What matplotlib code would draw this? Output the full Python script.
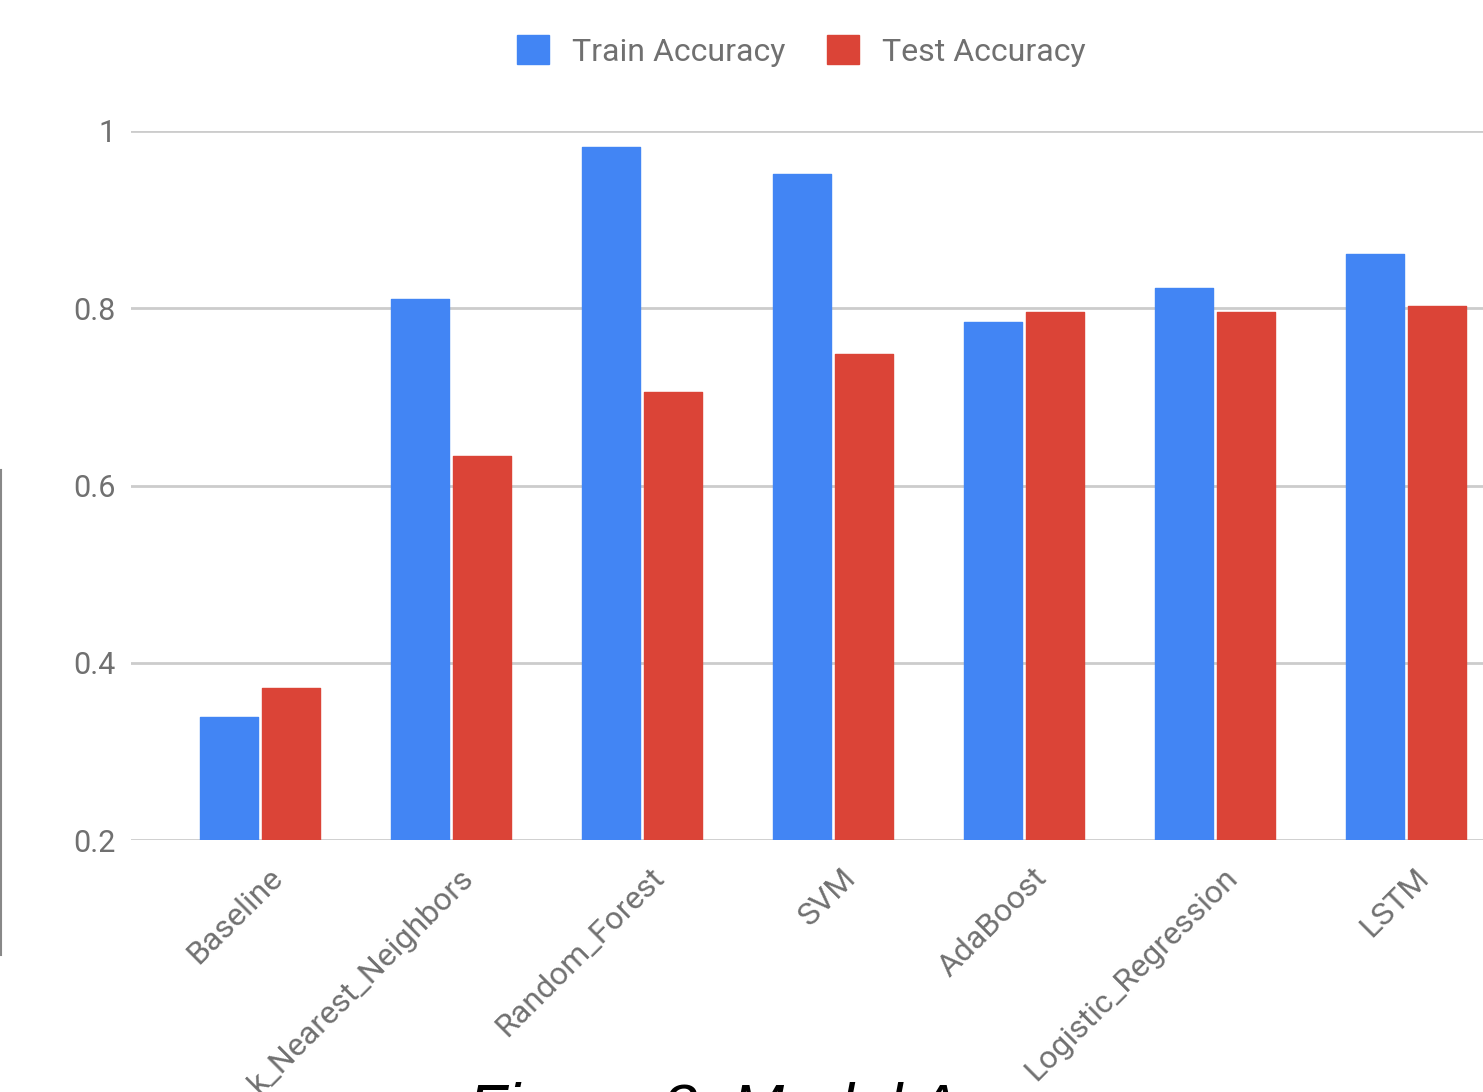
import numpy as np
import matplotlib
matplotlib.use("Agg")
import matplotlib.pyplot as plt
from matplotlib.lines import Line2D
from matplotlib.patches import Patch
from matplotlib.transforms import ScaledTranslation

models = ["Baseline", "k_Nearest_Neighbors", "Random_Forest", "SVM",
          "AdaBoost", "Logistic_Regression", "LSTM"]
train_acc = [0.339, 0.811, 0.982, 0.952, 0.784, 0.823, 0.861]
test_acc = [0.371, 0.633, 0.706, 0.748, 0.796, 0.796, 0.802]
yticks = [0.2, 0.4, 0.6, 0.8, 1.0]
ytick_labels = ["0.2", "0.4", "0.6", "0.8", "1"]

BLUE = "#4285F4"
RED = "#DB4437"
GREY_TXT = "#707070"

plt.rcParams['font.family'] = ['Roboto', 'DejaVu Sans']

W, H = 1483, 1092
fig = plt.figure(figsize=(W / 100, H / 100), dpi=100)
# plot area runs past the right edge of the figure
ax = fig.add_axes([131 / W, 1 - 840 / H, (1535 - 131) / W, (840 - 131) / H])

x = np.arange(len(models))
bw = 0.304
off = 0.162
ax.bar(x - off, np.array(train_acc) - 0.2, bw, bottom=0.2, color=BLUE,
       edgecolor=BLUE, linewidth=1, joinstyle="round", zorder=3)
ax.bar(x + off, np.array(test_acc) - 0.2, bw, bottom=0.2, color=RED,
       edgecolor=RED, linewidth=1, joinstyle="round", zorder=3)

ax.set_xlim(-0.675, len(models) - 1 + 0.675)
ax.set_ylim(0.2, 1.0)
ax.set_yticks(yticks)
ax.set_yticklabels(ytick_labels)
ax.yaxis.grid(True, color="#cccccc", linewidth=2)
ax.set_axisbelow(True)
for s in ax.spines.values():
    s.set_visible(False)
ax.tick_params(axis="y", length=0, pad=11, labelsize=22, labelcolor=GREY_TXT)
ax.tick_params(axis="x", length=0, pad=0, labelsize=23, labelcolor=GREY_TXT)

ax.set_xticks(x)
ax.set_xticklabels(models, rotation=45, ha="right", va="center",
                   rotation_mode="anchor")
shift = ScaledTranslation(18 / 100, -33 / 100, fig.dpi_scale_trans)
for lab in ax.get_xticklabels():
    lab.set_transform(lab.get_transform() + shift)

handles = [Patch(facecolor=BLUE, edgecolor=BLUE, label="Train Accuracy"),
           Patch(facecolor=RED, edgecolor=RED, label="Test Accuracy")]
leg = fig.legend(handles=handles, loc="center", ncol=2, frameon=False,
                 bbox_to_anchor=(801 / W, 1 - 51 / H), fontsize=23,
                 handlelength=1.0, handleheight=1.0, handletextpad=0.72,
                 columnspacing=1.3)
for t in leg.get_texts():
    t.set_color(GREY_TXT)

# stray border line at the left
fig.add_artist(Line2D([1 / W, 1 / W], [1 - 470 / H, 1 - 955 / H],
                      transform=fig.transFigure, color="#888888", linewidth=1.5))

fig.text(821 / W, 1 - 1082 / H, "Figure 3: Model Accuracy", ha="center", va="top",
         fontsize=45, style="italic", family="Liberation Sans", color="black")

fig.savefig("out.png", dpi=100)
